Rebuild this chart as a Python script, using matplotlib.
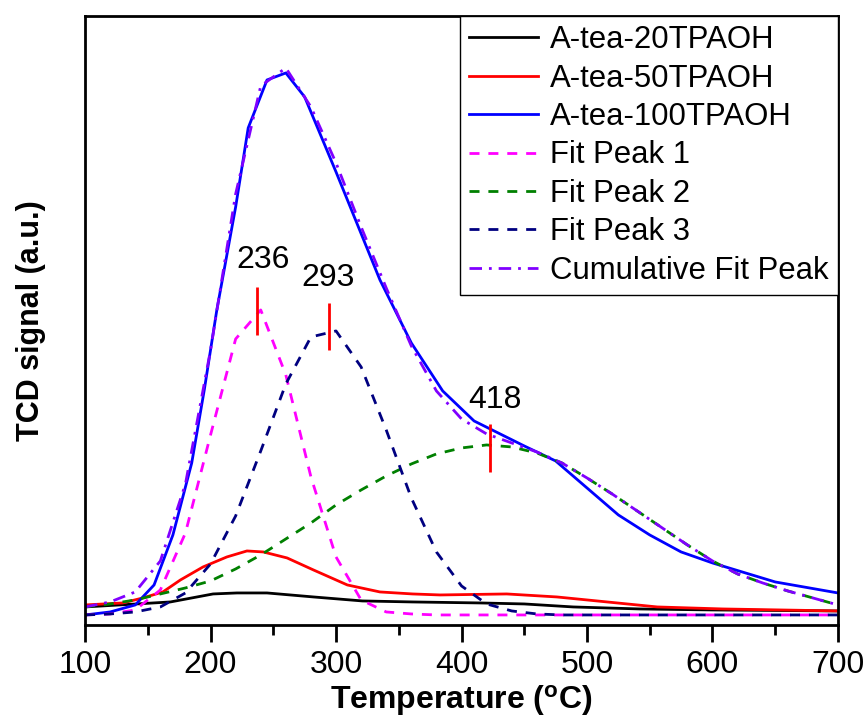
import matplotlib
matplotlib.use('Agg')
import matplotlib.pyplot as plt

plt.rcParams['font.family'] = ['Liberation Sans', 'DejaVu Sans']
plt.rcParams['mathtext.fontset'] = 'custom'
plt.rcParams['mathtext.rm'] = 'Liberation Sans'
plt.rcParams['mathtext.bf'] = 'Liberation Sans:bold'

# measured TPD curves
t_20 = [100, 141, 168, 202, 221, 245, 282, 321, 361, 415, 450, 489, 542, 600, 700]
s_20 = [0.18, 0.21, 0.23, 0.31, 0.32, 0.32, 0.28, 0.24, 0.23, 0.22, 0.21, 0.18, 0.16, 0.15, 0.14]

t_50 = [100, 130, 146, 162, 176, 194, 213, 229, 242, 261, 282, 309, 335, 361, 383, 436, 476, 516, 556, 608, 700]
s_50 = [0.20, 0.22, 0.27, 0.33, 0.45, 0.58, 0.68, 0.74, 0.73, 0.67, 0.55, 0.40, 0.33, 0.31, 0.30, 0.31, 0.28, 0.23, 0.18, 0.16, 0.14]

t_100 = [100, 120, 140, 155, 170, 185, 195, 205, 220, 230, 245, 260, 275, 300, 335, 360, 385, 410,
         450, 475, 500, 525, 550, 575, 600, 650, 700]
s_100 = [0.10, 0.13, 0.20, 0.40, 0.90, 1.62, 2.35, 3.15, 4.18, 4.97, 5.45, 5.52, 5.28, 4.53, 3.45, 2.82, 2.34, 2.04,
         1.79, 1.64, 1.37, 1.10, 0.90, 0.73, 0.62, 0.43, 0.32]

# gaussian fit of A-tea-100TPAOH
t_fit = list(range(100, 701, 20))
fit1 = [0.10, 0.11, 0.15, 0.35, 0.92, 1.90, 2.86, 3.15, 2.50, 1.48, 0.68, 0.25, 0.13, 0.11] + [0.10] * 17
fit2 = [0.18, 0.21, 0.25, 0.31, 0.37, 0.44, 0.56, 0.70, 0.86, 1.02, 1.20, 1.35, 1.49, 1.61, 1.71, 1.77,
        1.80, 1.78, 1.72, 1.62, 1.47, 1.31, 1.14, 0.97, 0.80, 0.64, 0.51, 0.42, 0.34, 0.27, 0.20]
fit3 = [0.10, 0.11, 0.13, 0.18, 0.32, 0.61, 1.09, 1.74, 2.41, 2.88, 2.94, 2.58, 1.95, 1.27, 0.73, 0.39,
        0.21, 0.14, 0.11] + [0.10] * 12
fit_sum = [0.18, 0.23, 0.33, 0.64, 1.41, 2.75, 4.31, 5.39, 5.57, 5.18, 4.62, 3.98, 3.37, 2.79, 2.34, 2.06,
           1.91, 1.82, 1.73, 1.62, 1.47, 1.31, 1.14, 0.97, 0.80, 0.64, 0.51, 0.42, 0.34, 0.27, 0.20]

# peak markers
peak_pos = [237, 294, 423]
peak_lo = [2.90, 2.75, 1.53]
peak_hi = [3.38, 3.22, 2.01]
peak_labels = ['236', '293', '418']
label_x = [242, 294, 427]
label_y = [3.50, 3.32, 2.10]

fig = plt.figure(figsize=(8.68, 7.25), dpi=100)
ax = fig.add_axes([0.098, 0.138, 0.8674, 0.84])

ax.plot(t_20, s_20, color='black', lw=2, label='A-tea-20TPAOH')
ax.plot(t_50, s_50, color='red', lw=2, label='A-tea-50TPAOH')
ax.plot(t_100, s_100, color='blue', lw=2, label='A-tea-100TPAOH')
ax.plot(t_fit, fit1, color='magenta', lw=2, dashes=(3.6, 3.2), label='Fit Peak 1')
ax.plot(t_fit, fit2, color='green', lw=2, dashes=(3.6, 3.2), label='Fit Peak 2')
ax.plot(t_fit, fit3, color='navy', lw=2, dashes=(3.6, 3.2), label='Fit Peak 3')
ax.plot(t_fit, fit_sum, color='#8000ff', lw=2, dashes=(4.5, 2.5, 1, 2.5), label='Cumulative Fit Peak')

ax.vlines(peak_pos, peak_lo, peak_hi, color='red', lw=2)
for x, y, s in zip(label_x, label_y, peak_labels):
    ax.text(x, y, s, fontsize=23, ha='center', va='bottom')

ax.set_xlim(100, 700)
ax.set_ylim(0, 6.09)
ax.set_xticks(range(100, 701, 100))
ax.set_xticks(range(150, 700, 100), minor=True)
ax.set_yticks([])
ax.tick_params(axis='x', which='major', direction='out', length=12, width=2, labelsize=23, pad=6)
ax.tick_params(axis='x', which='minor', direction='out', length=7, width=2)
for sp in ax.spines.values():
    sp.set_linewidth(2)

ax.set_xlabel(r'Temperature ($\mathbf{^o}$C)', fontsize=23, fontweight='bold', labelpad=2)
ax.set_ylabel('TCD signal (a.u.)', fontsize=22, fontweight='bold', labelpad=28)

leg = ax.legend(loc='upper right', bbox_to_anchor=(1, 1), borderaxespad=0, fontsize=22.4,
                fancybox=False, framealpha=1, edgecolor='black', handlelength=2.2,
                handletextpad=0.4, labelspacing=0.27, borderpad=0.3)
leg.get_frame().set_linewidth(1)

fig.savefig('out.png', dpi=100)
